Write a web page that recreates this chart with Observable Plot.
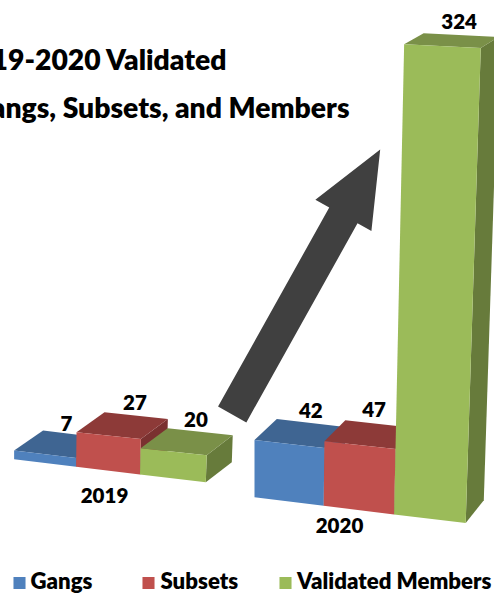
<!DOCTYPE html>
<html>
<head>
<meta charset="utf-8">
<script src="https://cdn.jsdelivr.net/npm/d3@7"></script>
<script src="https://cdn.jsdelivr.net/npm/@observablehq/plot@0.6"></script>
<style>html,body{margin:0;padding:0;background:#fff;overflow:hidden}</style>
</head>
<body>
<div id="chart"></div>
<script>
const years = ["2019", "2020"];
const series = ["Gangs", "Subsets", "Validated Members"];
const gangs = [7, 42];
const subsets = [27, 47];
const members = [20, 324];
const titleLines = ["2019-2020 Validated", "Gangs, Subsets, and Members"];

const values = [gangs, subsets, members];
const frontColors = ["#4f81bd", "#c0504d", "#9bbb59"];
const topColors = ["#3f6592", "#8d3a38", "#7a9048"];
const sideColors = ["#355679", "#7a3130", "#677b3b"];

// Perspective of the 3D view, one camera per year cluster
const cameras = [
  {x0: 13.6, w: 62, q: 1.9, y0: 458.7, s: 7.67, k: 1.25, kU: 0.03, dx0: 29, dxU: -1, dy0: 20, dyV: 0},
  {x0: 254, w: 69.2, q: 1.2, y0: 496.7, s: 8.6, k: 1.35, kU: 0.015, dx0: 22.3, dxU: -1.4, dy0: 22.7, dyV: 0.036}
];
function project(g, u, v, d) {
  const c = cameras[g];
  const k = c.k + c.kU * u + 0.00022 * v;
  return {
    x: c.x0 + c.w * u + c.q * u * (u - 1) / 2 + 0.0155 * u * v + d * (c.dx0 + c.dxU * u),
    y: c.y0 + c.s * u - k * v - d * (c.dy0 - c.dyV * v)
  };
}

const faces = [];
function face(id, color, pts) { pts.forEach(p => faces.push({id, color, x: p.x, y: p.y})); }
years.forEach((year, g) => {
  series.forEach((name, s) => {
    const v = values[s][g];
    const id = year + name;
    face(id + "side", sideColors[s], [project(g, s + 1, 0, 0), project(g, s + 1, v, 0), project(g, s + 1, v, 1), project(g, s + 1, 0, 1)]);
    face(id + "top", topColors[s], [project(g, s, v, 0), project(g, s + 1, v, 0), project(g, s + 1, v, 1), project(g, s, v, 1)]);
    face(id + "front", frontColors[s], [project(g, s, 0, 0), project(g, s + 1, 0, 0), project(g, s + 1, v, 0), project(g, s, v, 0)]);
  });
});

// Value labels sit above the back edge of each top
const labelNudge = [[[-7, 1], [-1, -1], [-4, 0]], [[0, 0], [-6, -3], [-2, -2]]];
const valueLabels = [];
years.forEach((year, g) => series.forEach((name, s) => {
  const v = values[s][g];
  const a = project(g, s + 0.5, v, 1);
  const n = labelNudge[g][s];
  valueLabels.push({text: String(v), x: a.x + n[0], y: a.y + n[1] - 11});
}));

const yearLabels = [{text: years[0], x: 104, y: 496}, {text: years[1], x: 339, y: 526}];

// Block arrow between the clusters
const tail = {x: 231.7, y: 414}, tip = {x: 379.7, y: 149};
const len = Math.hypot(tip.x - tail.x, tip.y - tail.y);
const ux = (tip.x - tail.x) / len, uy = (tip.y - tail.y) / len;
const along = (t, w) => ({x: tail.x + ux * t - uy * w, y: tail.y + uy * t + ux * w});
const shaftW = 16.2, headW = 32.1, headAt = len - 75.5;
const arrow = [along(0, -shaftW), along(headAt, -shaftW), along(headAt, -headW), along(len, 0), along(headAt, headW), along(headAt, shaftW), along(0, shaftW)];

const legend = [
  {text: series[0], sx: 19, tx: 30},
  {text: series[1], sx: 148, tx: 160},
  {text: series[2], sx: 285, tx: 296.5}
].map((d, i) => ({...d, color: frontColors[i]}));

const font = {fontFamily: "Lato", fontWeight: 800, fill: "#000", stroke: "none"};

const plot = Plot.plot({
  width: 494, height: 593,
  margin: 0,
  x: {domain: [0, 494], range: [0, 494], axis: null},
  y: {domain: [0, 593], range: [0, 593], axis: null},
  color: {type: "identity"},
  marks: [
    Plot.text(titleLines, {text: d => d, x: [226, 349], y: [60, 108], textAnchor: "end", fontSize: 28.3, ...font}),
    Plot.line(faces, {x: "x", y: "y", z: "id", fill: "color", stroke: "none", curve: "linear-closed", clip: true}),
    Plot.line(arrow, {x: "x", y: "y", fill: "#404040", stroke: "none", curve: "linear-closed"}),
    Plot.text(valueLabels, {x: "x", y: "y", text: "text", fontSize: 20.5, ...font}),
    Plot.text(yearLabels, {x: "x", y: "y", text: "text", fontSize: 20.5, ...font}),
    Plot.dot(legend, {x: "sx", y: () => 582.5, symbol: "square", r: 6.8, fill: "color", stroke: "none"}),
    Plot.text(legend, {x: "tx", y: () => 581, text: "text", textAnchor: "start", fontSize: 22.2, ...font})
  ]
});
document.getElementById("chart").appendChild(plot);
</script>
</body>
</html>
